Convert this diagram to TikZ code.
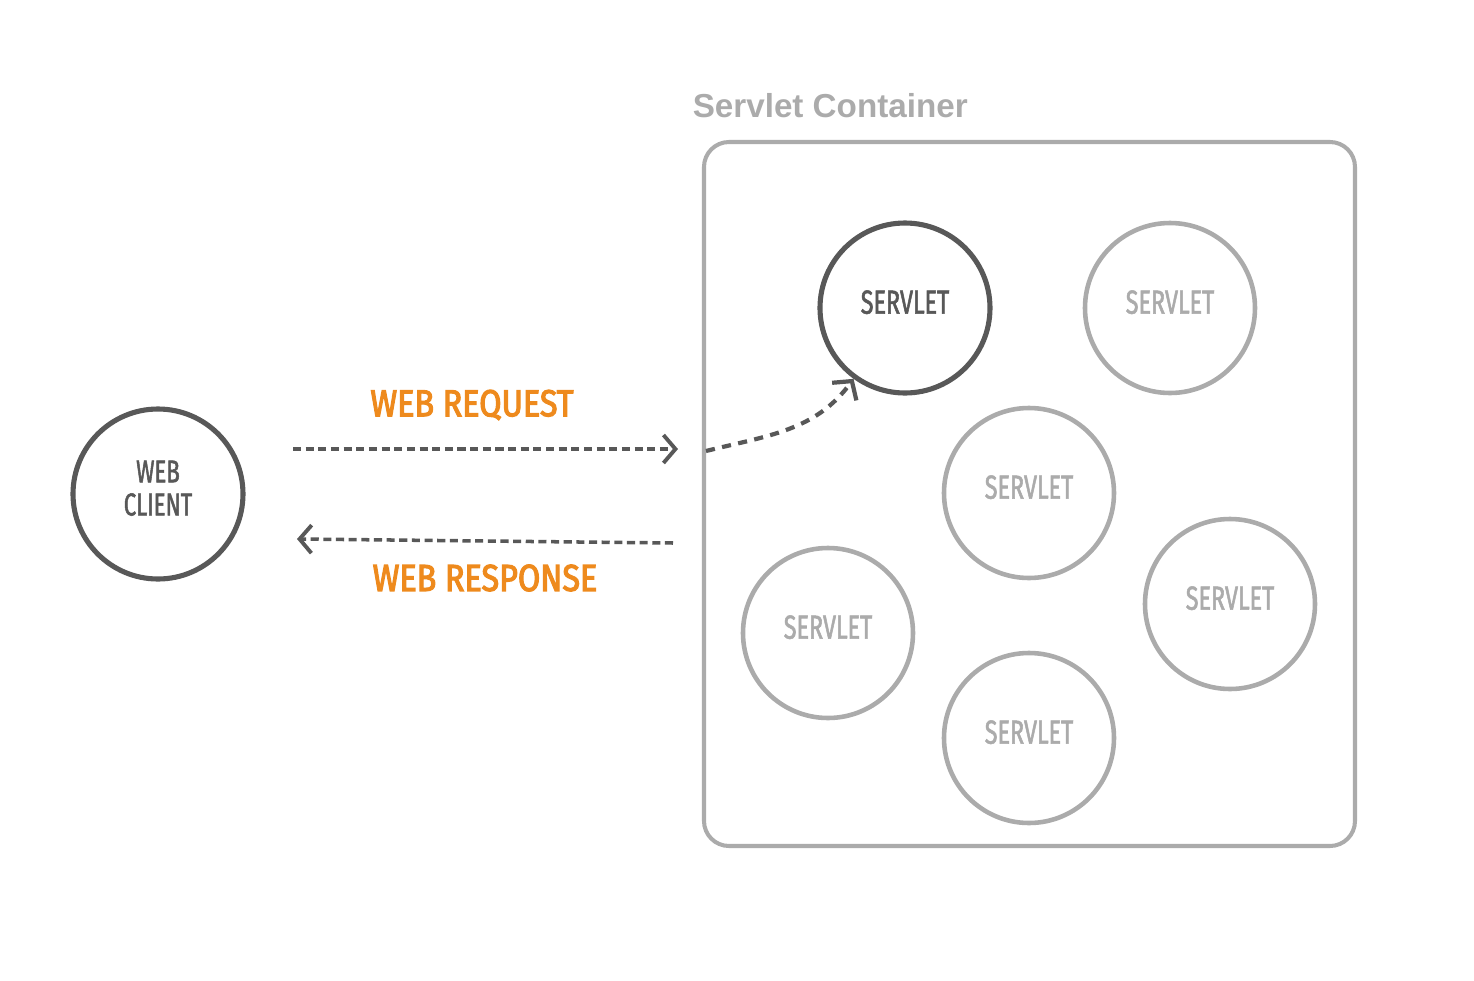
\documentclass[tikz,border=0pt]{standalone}
\usepackage{fontspec}
\setmainfont{Liberation Sans}
\newfontfamily\servletfont[FakeStretch=0.7, FakeBold=1.6]{Fira Sans}
\newfontfamily\msgfont[FakeStretch=0.86, FakeBold=3]{Fira Sans}
\usetikzlibrary{arrows.meta}

\definecolor{darkgrey}{HTML}{585858}
\definecolor{lightgrey}{HTML}{ABABAB}
\definecolor{msgorange}{HTML}{EE8A1D}

\begin{document}
\begin{tikzpicture}[semithick]
            \tikzstyle{client}  = [circle, minimum size=1.7cm, inner sep=0pt, draw=darkgrey, line width=1.45pt, text=darkgrey, align=center, text depth=0.12cm, font=\servletfont\fontsize{9}{9.4}\selectfont]
            \tikzstyle{active}  = [circle, minimum size=1.7cm, inner sep=0pt, draw=darkgrey, line width=1.45pt, text=darkgrey, text depth=0.12cm, font=\servletfont\fontsize{9.5}{10}\selectfont]
            \tikzstyle{idle}    = [circle, minimum size=1.7cm, inner sep=0pt, draw=lightgrey, line width=1.3pt, text=lightgrey, text depth=0.12cm, font=\servletfont\fontsize{9.5}{10}\selectfont]
            \tikzstyle{msg}     = [text=msgorange, font=\msgfont\fontsize{10.7}{12}\selectfont]
            \tikzstyle{flow}    = [draw=darkgrey, line width=1pt, dash pattern=on 2.3pt off 1.3pt, -{Straight Barb[length=1.2mm, width=2.8mm, line width=1.1pt]}]
            \tikzstyle{dispatch}= [draw=darkgrey, line width=1.2pt, dash pattern=on 2.6pt off 2.1pt, -{Straight Barb[length=1.3mm, width=3mm, line width=1.2pt]}]

            \useasboundingbox (0,0) rectangle (14.74,-9.81);

            % Container .........................
            \draw[lightgrey, line width=1.15pt, rounded corners=0.25cm] (7.04,-1.42) rectangle (13.55,-8.46);
            \node[anchor=base west, text=lightgrey, font=\bfseries\fontsize{9.45}{11}\selectfont] (title) at (6.80,-1.17) {Servlet Container};

            % Client and servlets .........................
            \node[client] (client) at (1.58,-4.94) {WEB\\CLIENT};
            \node[active] (s1) at (9.05,-3.08) {SERVLET};
            \node[idle]   (s2) at (11.70,-3.08) {SERVLET};
            \node[idle]   (s3) at (10.29,-4.93) {SERVLET};
            \node[idle]   (s4) at (12.30,-6.04) {SERVLET};
            \node[idle]   (s5) at (8.28,-6.33) {SERVLET};
            \node[idle]   (s6) at (10.29,-7.38) {SERVLET};

            % Request and response .........................
            \coordinate (reqA) at (2.93,-4.49);
            \coordinate (reqB) at (6.78,-4.49);
            \coordinate (reqC) at (7.06,-4.51);
            \coordinate (resA) at (6.73,-5.43);
            \coordinate (resB) at (2.97,-5.39);

            \draw[flow] (reqA) -- (reqB);
            \draw[flow] (resA) -- (resB);
            \draw[dispatch] (reqC) to[out=14, in=234] (s1);

            \node[msg] (req) at (4.72,-4.05) {WEB REQUEST};
            \node[msg] (res) at (4.85,-5.78) {WEB RESPONSE};

        \end{tikzpicture}
\end{document}
